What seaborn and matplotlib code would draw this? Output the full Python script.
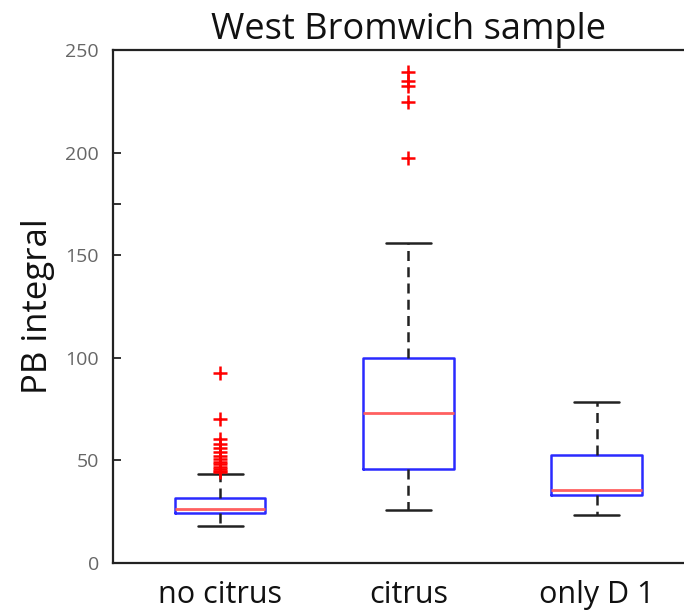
import seaborn as sns
import matplotlib.pyplot as plt
from matplotlib.ticker import FixedLocator
import pandas as pd

# five-number summaries: lower whisker, Q1, median, Q3, upper whisker
groups = ["no citrus", "citrus", "only D 1"]
no_citrus = [18.0, 24.4, 26.5, 31.7, 43.5]
citrus = [26.0, 45.8, 73.0, 100.0, 156.0]
only_d1 = [23.5, 33.2, 35.8, 52.8, 78.6]

# outliers
no_citrus_out = [92.6, 70.2, 60.5, 58.0, 56.0, 54.0, 52.0, 50.5, 49.0, 48.0, 47.0, 46.0, 45.0, 44.5]
citrus_out = [239.5, 235.0, 232.5, 224.5, 197.5]
only_d1_out = []


def build_frames():
    box = pd.DataFrame({
        "group": [groups[0]] * 5 + [groups[1]] * 5 + [groups[2]] * 5,
        "value": no_citrus + citrus + only_d1,
    })
    out = pd.DataFrame({
        "group": [groups[0]] * len(no_citrus_out) + [groups[1]] * len(citrus_out)
                 + [groups[2]] * len(only_d1_out),
        "value": no_citrus_out + citrus_out + only_d1_out,
    })
    return box, out


def plot_data(box, out, output):
    sns.set_style("white")
    plt.rcParams["font.family"] = ["Open Sans", "DejaVu Sans"]
    fig = plt.figure(figsize=(6.84, 6.15), dpi=100)
    ax = fig.add_axes([0.165, 0.0846, 0.864, 0.834])

    sns.boxplot(data=box, x="group", y="value", order=groups, ax=ax,
                whis=(0, 100), showfliers=False, width=0.48, fill=False,
                color="blue", linewidth=1.8,
                boxprops=dict(color="#2a2aff"),
                medianprops=dict(color="#ff6060", linewidth=2),
                whiskerprops=dict(color="#222222", linestyle=(0, (4, 2.5))),
                capprops=dict(color="#222222"))
    sns.stripplot(data=out, x="group", y="value", order=groups, ax=ax,
                  jitter=False, marker="+", color="red", size=10,
                  linewidth=1.8, zorder=5)

    ax.set_xlim(0.43 - 1, 3.57 - 1)
    ax.set_ylim(0, 250)
    ax.set_yticks([0, 50, 100, 150, 200, 250])
    ax.yaxis.set_minor_locator(FixedLocator([175]))
    ax.tick_params(axis="y", which="both", left=True, direction="in", length=6,
                   width=1.3, color="#222222", labelsize=14,
                   labelcolor="#666666", pad=10)
    ax.tick_params(axis="x", length=0, labelsize=22, labelcolor="#111111", pad=12)
    ax.set_xlabel("")
    ax.set_ylabel("PB integral", fontsize=25, labelpad=7, color="#111111")
    ax.set_title("West Bromwich sample", fontsize=26, pad=8, color="#111111")

    for s in ["left", "bottom", "top"]:
        ax.spines[s].set_linewidth(1.6)
        ax.spines[s].set_color("#222222")
    ax.spines["right"].set_visible(False)

    fig.savefig(output, dpi=100)


def main():
    box, out = build_frames()
    plot_data(box, out, "out.png")


if __name__ == "__main__":
    main()
